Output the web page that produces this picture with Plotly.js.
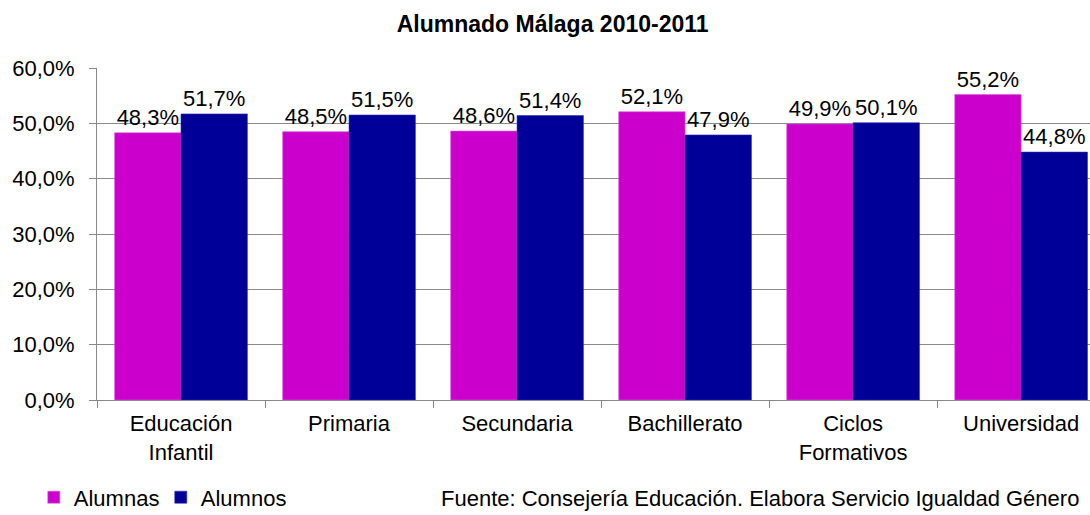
<!DOCTYPE html>
<html>
<head>
<meta charset="utf-8">
<script src="https://cdn.plot.ly/plotly-3.0.1.min.js"></script>
<style>html,body{margin:0;padding:0;overflow:hidden;background:#fff;}</style>
</head>
<body>
<div id="chart" style="width:1090px;height:515px;"></div>
<script>
var categories = ["Educación<br>Infantil", "Primaria", "Secundaria", "Bachillerato", "Ciclos<br>Formativos", "Universidad"];
var alumnas = [48.3, 48.5, 48.6, 52.1, 49.9, 55.2];
var alumnos = [51.7, 51.5, 51.4, 47.9, 50.1, 44.8];
var seriesNames = ["Alumnas", "Alumnos"];
var yTicks = [0, 10, 20, 30, 40, 50, 60];
var yTickText = yTicks.map(function (v) { return v.toFixed(1).replace(".", ",") + "%"; });

var FONT = "Arial, 'Liberation Sans', sans-serif";

var traces = [
  {
    type: "bar", name: seriesNames[0], x: categories, y: alumnas,
    marker: {color: "#CC00CC", line: {color: "#D65CD6", width: 0.6}},
    texttemplate: "%{y:.1f}%", textposition: "outside", cliponaxis: false,
    textfont: {family: FONT, size: 22, color: "#000"}
  },
  {
    type: "bar", name: seriesNames[1], x: categories, y: alumnos,
    marker: {color: "#000099", line: {color: "#2E2EAD", width: 0.6}},
    texttemplate: "%{y:.1f}%", textposition: "outside", cliponaxis: false,
    textfont: {family: FONT, size: 22, color: "#000"}
  }
];

var layout = {
  width: 1090, height: 515,
  margin: {l: 97, r: 0, t: 68, b: 115},
  paper_bgcolor: "#fff", plot_bgcolor: "#fff",
  separators: ",.",
  font: {family: FONT, color: "#000", size: 22},
  title: {
    text: "<b>Alumnado Málaga 2010-2011</b>",
    font: {family: FONT, size: 23, color: "#000"},
    xref: "container", x: 0.507, xanchor: "center",
    yref: "container", y: 0.953, yanchor: "middle"
  },
  barmode: "group", bargap: 0.21, bargroupgap: 0,
  xaxis: {
    type: "category", range: [-0.5, 5.41],
    showline: true, linecolor: "#888", linewidth: 1,
    ticks: "outside", tickson: "boundaries", ticklen: 7, tickcolor: "#888",
    ticklabelstandoff: 4,
    tickfont: {family: FONT, size: 22, color: "#000"},
    showgrid: false
  },
  yaxis: {
    range: [0, 60], tickmode: "array", tickvals: yTicks, ticktext: yTickText,
    showline: true, linecolor: "#888", linewidth: 1,
    ticks: "outside", ticklen: 7, tickcolor: "#888",
    ticklabelstandoff: 10,
    showgrid: true, gridcolor: "#8a8a8a", gridwidth: 1,
    zeroline: false,
    tickfont: {family: FONT, size: 22, color: "#000"}
  },
  showlegend: true,
  legend: {
    orientation: "h", xref: "container", yref: "container",
    x: 0.031, xanchor: "left", y: 0.075, yanchor: "top",
    font: {family: FONT, size: 22, color: "#000"},
    entrywidth: 82, entrywidthmode: "pixels",
    itemwidth: 30, tracegroupgap: 0, bgcolor: "rgba(0,0,0,0)"
  },
  annotations: [{
    text: "Fuente: Consejería Educación. Elabora Servicio Igualdad Género",
    xref: "paper", yref: "paper", x: 0.344, xanchor: "left",
    y: -0.252, yanchor: "top", showarrow: false,
    font: {family: FONT, size: 22, color: "#000"}
  }]
};

Plotly.newPlot("chart", traces, layout, {displayModeBar: false, staticPlot: true});
</script>
</body>
</html>
